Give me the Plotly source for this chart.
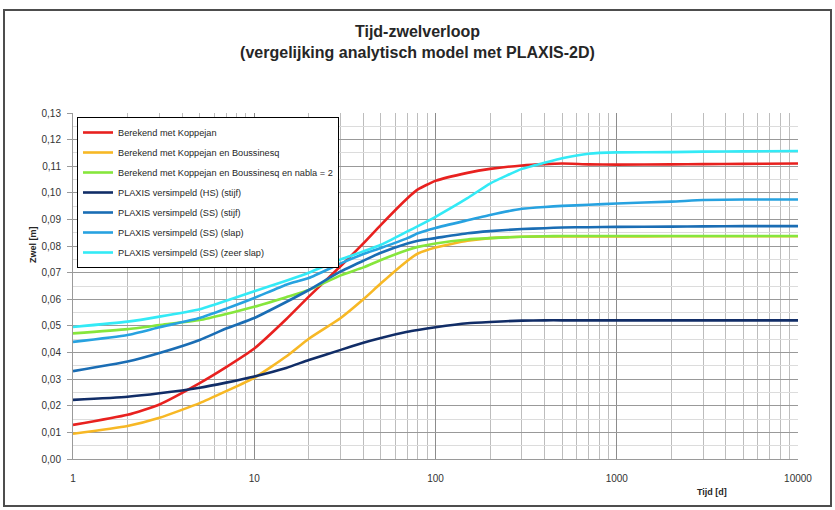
import plotly.graph_objects as go

# Time [days]
tijd = [1, 2, 3, 5, 7, 10, 15, 20, 30, 40, 50, 70, 80, 100, 150, 200, 300, 400, 500, 700, 1000, 2000, 3000, 5000, 10000]

koppejan = [0.0128, 0.0166, 0.0205, 0.0285, 0.0345, 0.0415, 0.0525, 0.0610, 0.0725, 0.0810, 0.0880, 0.0980, 0.1013, 0.1045, 0.1075, 0.1090, 0.1103, 0.1108, 0.1110, 0.1107, 0.1106, 0.1107, 0.1108, 0.1109, 0.1110]
koppejan_bous = [0.0095, 0.0124, 0.0155, 0.0210, 0.0255, 0.0305, 0.0385, 0.0452, 0.0530, 0.0600, 0.0660, 0.0745, 0.0772, 0.0795, 0.0820, 0.0830, 0.0835, 0.0836, 0.0836, 0.0836, 0.0836, 0.0837, 0.0837, 0.0837, 0.0837]
koppejan_bous_nabla = [0.0472, 0.0488, 0.0503, 0.0522, 0.0545, 0.0572, 0.0608, 0.0635, 0.0690, 0.0720, 0.0748, 0.0785, 0.0797, 0.0810, 0.0825, 0.0830, 0.0835, 0.0837, 0.0838, 0.0838, 0.0838, 0.0838, 0.0838, 0.0838, 0.0838]
plaxis_hs_stijf = [0.0222, 0.0234, 0.0247, 0.0268, 0.0287, 0.0310, 0.0342, 0.0372, 0.0410, 0.0437, 0.0455, 0.0478, 0.0485, 0.0495, 0.0510, 0.0515, 0.0520, 0.0521, 0.0521, 0.0521, 0.0521, 0.0521, 0.0521, 0.0521, 0.0521]
plaxis_ss_stijf = [0.0330, 0.0366, 0.0398, 0.0447, 0.0490, 0.0530, 0.0590, 0.0635, 0.0705, 0.0745, 0.0775, 0.0810, 0.0820, 0.0830, 0.0848, 0.0856, 0.0864, 0.0867, 0.0870, 0.0871, 0.0872, 0.0873, 0.0874, 0.0875, 0.0875]
plaxis_ss_slap = [0.0440, 0.0466, 0.0495, 0.0530, 0.0565, 0.0605, 0.0655, 0.0680, 0.0735, 0.0770, 0.0793, 0.0830, 0.0848, 0.0868, 0.0897, 0.0917, 0.0940, 0.0947, 0.0951, 0.0955, 0.0960, 0.0967, 0.0973, 0.0975, 0.0975]
plaxis_ss_zeerslap = [0.0496, 0.0516, 0.0535, 0.0563, 0.0595, 0.0630, 0.0670, 0.0700, 0.0750, 0.0780, 0.0805, 0.0855, 0.0875, 0.0910, 0.0980, 0.1035, 0.1090, 0.1113, 0.1130, 0.1147, 0.1152, 0.1153, 0.1155, 0.1156, 0.1157]

series_names = [
    "Berekend met Koppejan",
    "Berekend met Koppejan en Boussinesq",
    "Berekend met Koppejan en Boussinesq en nabla = 2",
    "PLAXIS versimpeld (HS) (stijf)",
    "PLAXIS versimpeld (SS) (stijf)",
    "PLAXIS versimpeld (SS) (slap)",
    "PLAXIS versimpeld (SS) (zeer slap)",
]
series_values = [koppejan, koppejan_bous, koppejan_bous_nabla, plaxis_hs_stijf,
                 plaxis_ss_stijf, plaxis_ss_slap, plaxis_ss_zeerslap]
colors = ["#e8211f", "#f7b825", "#86e63c", "#112d67", "#1a6db4", "#27a2e0", "#33eaf6"]

x_tickvals = [1, 10, 100, 1000, 10000]
x_ticktext = ["1", "10", "100", "1000", "10000"]

FONT = "Liberation Sans Narrow, Liberation Sans, Arial, sans-serif"

fig = go.Figure()
for i, (name, vals, col) in enumerate(zip(series_names, series_values, colors)):
    fig.add_trace(go.Scatter(x=tijd, y=vals, name=name, mode="lines", legendgroup=f"g{i}",
                             line=dict(color=col, width=2.6, shape="spline", smoothing=0.5)))

# body margin is removed by the post script, so figure pixels == page pixels
W, H = 835, 510
# page-pixel positions of the plot area
PX_L, PX_R, PX_T, PX_B = 73, 798, 113, 459
L, R, T, B = PX_L, W - PX_R, PX_T, H - PX_B
pw, ph = PX_R - PX_L, PX_B - PX_T

def px_to_paper_x(px):
    return (px - PX_L) / pw

def px_to_paper_y(py):
    return (PX_B - py) / ph

fig.update_layout(
    width=W, height=H,
    margin=dict(l=L, r=R, t=T, b=B),
    paper_bgcolor="white", plot_bgcolor="white",
    separators=",.",
    font=dict(family=FONT, size=10, color="#333333"),
    title=dict(text="<b>Tijd-zwelverloop<br>(vergelijking analytisch model met PLAXIS-2D)</b>",
               x=0.5, xref="container", xanchor="center", y=1 - 37 / H, yref="container", yanchor="top",
               font=dict(family=FONT, size=16, color="#262626")),
    showlegend=True,
    legend=dict(x=px_to_paper_x(77), y=px_to_paper_y(117), xanchor="left", yanchor="top",
                bgcolor="white", bordercolor="#000000", borderwidth=1,
                font=dict(family=FONT, size=9.2, color="#262626"),
                itemwidth=30, tracegroupgap=1),
    xaxis=dict(type="log", range=[0, 4], tickvals=x_tickvals, ticktext=x_ticktext,
               showgrid=True, gridcolor="#8c8c8c", gridwidth=1,
               minor=dict(dtick="D1", showgrid=True, gridcolor="#bdbdbd", gridwidth=1, ticks=""),
               ticks="", ticklabelstandoff=10, showline=True, linecolor="#9a9a9a", zeroline=False,
               tickfont=dict(family=FONT, size=10, color="#333333")),
    yaxis=dict(range=[0, 0.13], dtick=0.01, tick0=0, tickformat=".2f",
               showgrid=True, gridcolor="#999999", gridwidth=1,
               minor=dict(dtick=0.005, showgrid=True, gridcolor="#dcdcdc", gridwidth=1),
               ticks="outside", ticklen=5, tickcolor="#9a9a9a", ticklabelstandoff=4,
               showline=True, linecolor="#9a9a9a", zeroline=False,
               tickfont=dict(family=FONT, size=10, color="#333333")),
    annotations=[
        dict(text="<b>Zwel [m]</b>", x=px_to_paper_x(33), y=px_to_paper_y(245), xref="paper", yref="paper",
             xanchor="center", yanchor="middle",
             textangle=-90, showarrow=False, font=dict(family=FONT, size=9, color="#262626")),
        dict(text="<b>Tijd [d]</b>", x=px_to_paper_x(712), y=px_to_paper_y(492), xref="paper", yref="paper",
             xanchor="center", yanchor="middle",
             showarrow=False, font=dict(family=FONT, size=9, color="#262626")),
    ],
    shapes=[
        dict(type="rect", xref="paper", yref="paper",
             x0=px_to_paper_x(4), x1=px_to_paper_x(831), y0=px_to_paper_y(506), y1=px_to_paper_y(10),
             line=dict(color="#4d4d4d", width=2), fillcolor="rgba(0,0,0,0)", layer="below"),
    ],
)

fig.write_html("out.html", config={"displayModeBar": False},
               post_script="document.body.style.margin='0';")
